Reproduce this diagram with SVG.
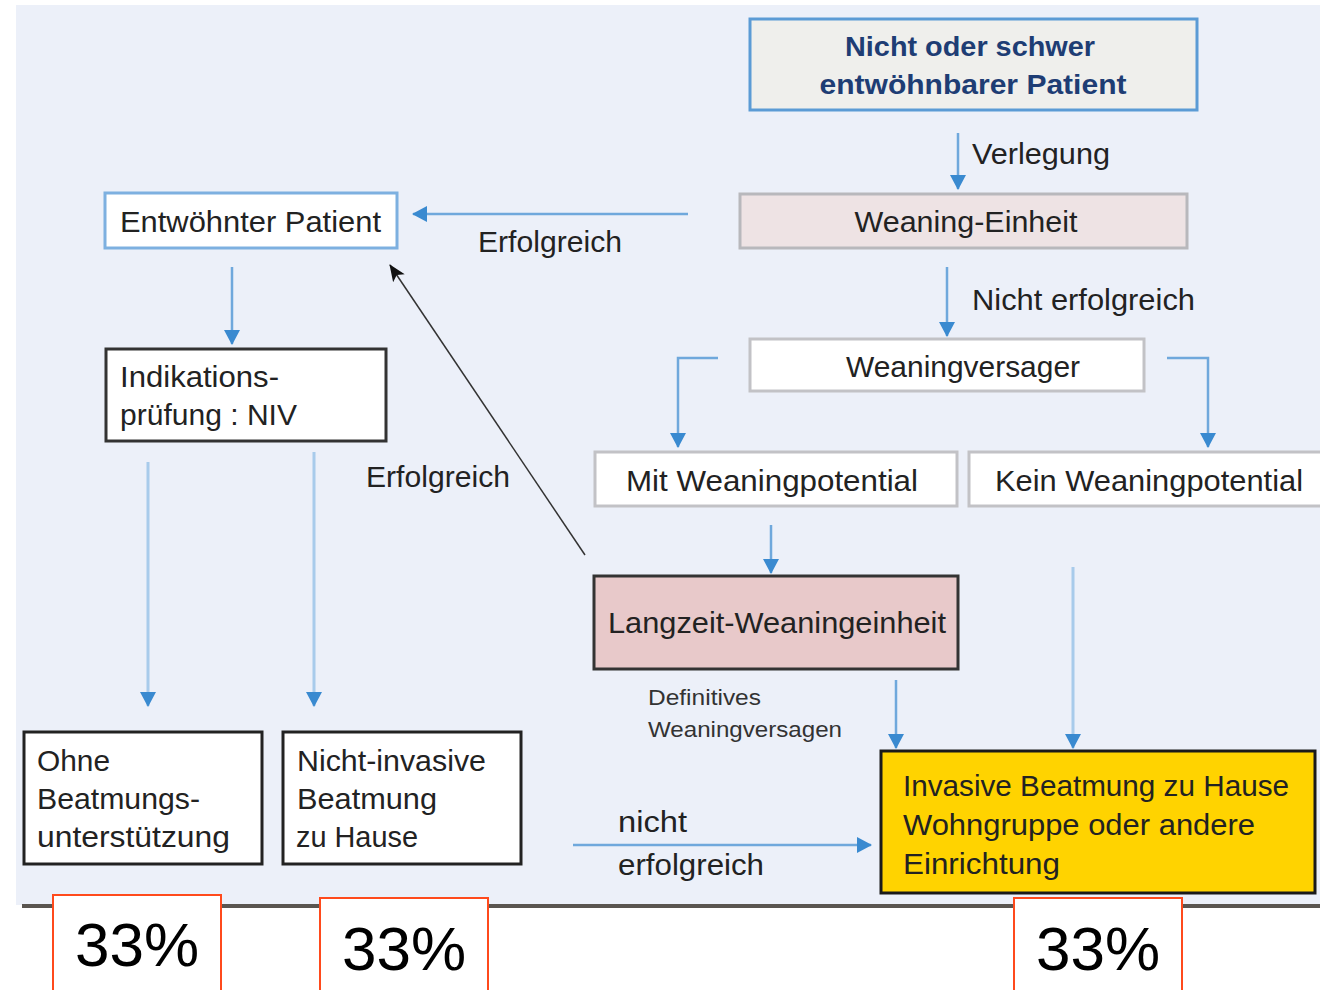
<svg xmlns="http://www.w3.org/2000/svg" width="1320" height="990" viewBox="0 0 1320 990">
<style>
text{font-family:"Liberation Sans",Arial,sans-serif;fill:#222;font-size:30px}
.t{fill:#1E3D74;font-weight:bold;font-size:28px}
.sm{font-size:22px;fill:#333}
.pct{font-size:62px;fill:#000}
.ln{stroke:#6FA8DC;stroke-width:2.5;fill:none}
.lnl{stroke:#A8CBEB;stroke-width:3;fill:none}
.pb{fill:#fff;stroke:#FF4A1C;stroke-width:2}
</style>
<defs>
<marker id="ab" markerUnits="userSpaceOnUse" markerWidth="16" markerHeight="18" refX="14" refY="9" orient="auto">
<path d="M0,1 L15,9 L0,17 Z" fill="#3A8AD0"/>
</marker>
<marker id="ak" markerUnits="userSpaceOnUse" markerWidth="18" markerHeight="18" refX="16" refY="8" orient="auto">
<path d="M0,1 L17,8 L0,15 L4,8 Z" fill="#111"/>
</marker>
</defs>
<rect x="0" y="0" width="1320" height="990" fill="#fff"/>
<rect x="16" y="5" width="1304" height="900" fill="#ECF0F9"/>

<g id="connectors">
<line class="ln" x1="958" y1="133" x2="958" y2="189" marker-end="url(#ab)"/>
<line class="ln" x1="688" y1="214" x2="413" y2="214" marker-end="url(#ab)"/>
<line class="ln" x1="232" y1="267" x2="232" y2="344" marker-end="url(#ab)"/>
<line class="ln" x1="947" y1="267" x2="947" y2="336" marker-end="url(#ab)"/>
<polyline class="ln" points="718,358 678,358 678,447" marker-end="url(#ab)"/>
<polyline class="ln" points="1167,358 1208,358 1208,447" marker-end="url(#ab)"/>
<line class="ln" x1="771" y1="525" x2="771" y2="573" marker-end="url(#ab)"/>
<line class="ln" x1="896" y1="680" x2="896" y2="748" marker-end="url(#ab)"/>
<line class="lnl" x1="1073" y1="567" x2="1073" y2="748" marker-end="url(#ab)"/>
<line class="lnl" x1="148" y1="462" x2="148" y2="706" marker-end="url(#ab)"/>
<line class="lnl" x1="314" y1="452" x2="314" y2="706" marker-end="url(#ab)"/>
<line class="ln" x1="573" y1="845" x2="871" y2="845" marker-end="url(#ab)"/>
<line x1="585" y1="555" x2="390" y2="265" stroke="#333" stroke-width="1.5" marker-end="url(#ak)"/>
<text x="972" y="164" textLength="138" lengthAdjust="spacingAndGlyphs">Verlegung</text>
<text x="478" y="252" textLength="144" lengthAdjust="spacingAndGlyphs">Erfolgreich</text>
<text x="972" y="310" textLength="223" lengthAdjust="spacingAndGlyphs">Nicht erfolgreich</text>
<text x="366" y="487" textLength="144" lengthAdjust="spacingAndGlyphs">Erfolgreich</text>
<text class="sm" x="648" y="705" textLength="113" lengthAdjust="spacingAndGlyphs">Definitives</text>
<text class="sm" x="648" y="737" textLength="194" lengthAdjust="spacingAndGlyphs">Weaningversagen</text>
<text x="618" y="832" textLength="69" lengthAdjust="spacingAndGlyphs">nicht</text>
<text x="618" y="875" textLength="146" lengthAdjust="spacingAndGlyphs">erfolgreich</text>
</g>

<g id="n-start">
<rect x="750" y="19" width="447" height="91" fill="#EFEFEC" stroke="#5B9BD5" stroke-width="3"/>
<text class="t" x="970" y="56" text-anchor="middle" textLength="250" lengthAdjust="spacingAndGlyphs">Nicht oder schwer</text>
<text class="t" x="973" y="94" text-anchor="middle" textLength="307" lengthAdjust="spacingAndGlyphs">entwöhnbarer Patient</text>
</g>
<g id="n-weaning">
<rect x="740" y="194" width="447" height="54" fill="#EEE3E4" stroke="#B8B8BC" stroke-width="3"/>
<text x="966" y="232" text-anchor="middle" textLength="223" lengthAdjust="spacingAndGlyphs">Weaning-Einheit</text>
</g>
<g id="n-entw">
<rect x="105" y="193" width="292" height="55" fill="#fff" stroke="#7DB0E0" stroke-width="3"/>
<text x="120" y="232" textLength="261" lengthAdjust="spacingAndGlyphs">Entwöhnter Patient</text>
</g>
<g id="n-indik">
<rect x="106" y="349" width="280" height="92" fill="#fff" stroke="#333" stroke-width="3"/>
<text x="120" y="387" textLength="159" lengthAdjust="spacingAndGlyphs">Indikations-</text>
<text x="120" y="425" textLength="177" lengthAdjust="spacingAndGlyphs">prüfung : NIV</text>
</g>
<g id="n-versager">
<rect x="750" y="339" width="394" height="52" fill="#fff" stroke="#C2C2C6" stroke-width="3"/>
<text x="963" y="377" text-anchor="middle" textLength="234" lengthAdjust="spacingAndGlyphs">Weaningversager</text>
</g>
<g id="n-mit">
<rect x="595" y="452" width="362" height="54" fill="#fff" stroke="#C2C2C6" stroke-width="3"/>
<text x="772" y="491" text-anchor="middle" textLength="292" lengthAdjust="spacingAndGlyphs">Mit Weaningpotential</text>
</g>
<g id="n-kein">
<rect x="969" y="452" width="356" height="54" fill="#fff" stroke="#C2C2C6" stroke-width="3"/>
<text x="995" y="491" textLength="308" lengthAdjust="spacingAndGlyphs">Kein Weaningpotential</text>
</g>
<g id="n-langzeit">
<rect x="594" y="576" width="364" height="93" fill="#E8C9CA" stroke="#333" stroke-width="3"/>
<text x="777" y="633" text-anchor="middle" textLength="338" lengthAdjust="spacingAndGlyphs">Langzeit-Weaningeinheit</text>
</g>
<g id="n-invasiv">
<rect x="881" y="751" width="434" height="142" fill="#FFD300" stroke="#1A1A1A" stroke-width="3"/>
<text x="903" y="796" textLength="386" lengthAdjust="spacingAndGlyphs">Invasive Beatmung zu Hause</text>
<text x="903" y="835" textLength="352" lengthAdjust="spacingAndGlyphs">Wohngruppe oder andere</text>
<text x="903" y="874" textLength="157" lengthAdjust="spacingAndGlyphs">Einrichtung</text>
</g>
<g id="n-ohne">
<rect x="24" y="732" width="238" height="132" fill="#fff" stroke="#222" stroke-width="3"/>
<text x="37" y="771" textLength="73" lengthAdjust="spacingAndGlyphs">Ohne</text>
<text x="37" y="809" textLength="163" lengthAdjust="spacingAndGlyphs">Beatmungs-</text>
<text x="37" y="847" textLength="193" lengthAdjust="spacingAndGlyphs">unterstützung</text>
</g>
<g id="n-niv">
<rect x="283" y="732" width="238" height="132" fill="#fff" stroke="#222" stroke-width="3"/>
<text x="297" y="771" textLength="189" lengthAdjust="spacingAndGlyphs">Nicht-invasive</text>
<text x="297" y="809" textLength="140" lengthAdjust="spacingAndGlyphs">Beatmung</text>
<text x="296" y="847" textLength="122" lengthAdjust="spacingAndGlyphs">zu Hause</text>
</g>

<line x1="22" y1="906" x2="1320" y2="906" stroke="#5A5550" stroke-width="4"/>

<g id="p1">
<rect class="pb" x="53" y="895" width="168" height="100"/>
<text class="pct" x="137" y="966" text-anchor="middle">33%</text>
</g>
<g id="p2">
<rect class="pb" x="320" y="898" width="168" height="100"/>
<text class="pct" x="404" y="970" text-anchor="middle">33%</text>
</g>
<g id="p3">
<rect class="pb" x="1014" y="898" width="168" height="100"/>
<text class="pct" x="1098" y="970" text-anchor="middle">33%</text>
</g>
</svg>
